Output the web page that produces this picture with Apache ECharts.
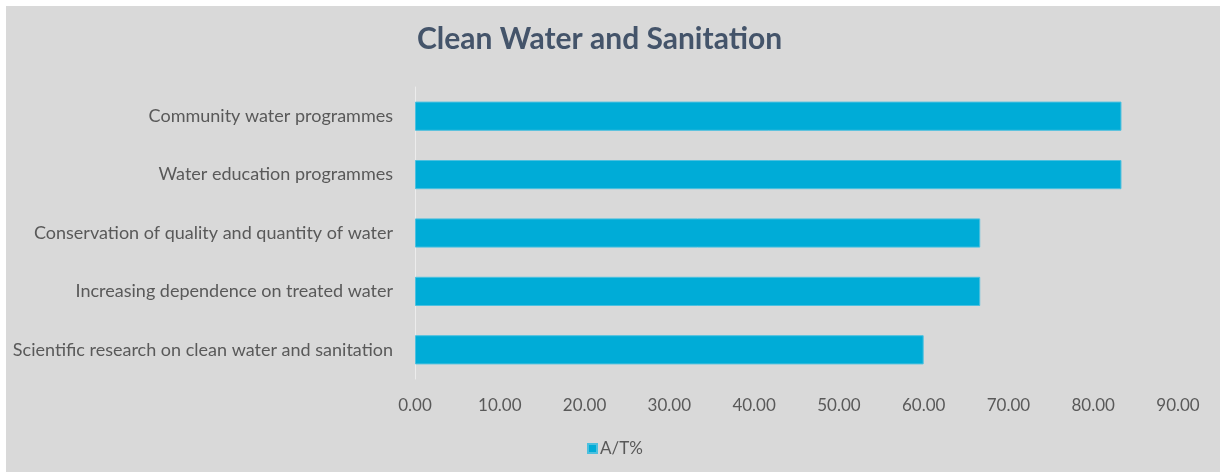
<!DOCTYPE html>
<html>
<head>
<meta charset="utf-8">
<script src="https://cdn.jsdelivr.net/npm/echarts@6/dist/echarts.min.js"></script>
<style>
  body { margin: 0; background: #fff; }
  #bg { position: absolute; left: 6px; top: 6px; width: 1214px; height: 466px; background: #d9d9d9; }
  #main { position: absolute; left: 0; top: 0; width: 1220px; height: 472px; }
</style>
</head>
<body>
<div id="bg"></div>
<div id="main"></div>
<script>
// categories, top to bottom as in the picture
const categories = [
  'Community water programmes',
  'Water education programmes',
  'Conservation of quality and quantity of water',
  'Increasing dependence on treated water',
  'Scientific research on clean water and sanitation'
];
const atValues = [83.33, 83.33, 66.67, 66.67, 60.00];
const seriesName = 'A/T%';
const xTicks = { min: 0, max: 90, interval: 10 };

const myChart = echarts.init(document.getElementById('main'));
myChart.setOption({
  backgroundColor: 'transparent',
  textStyle: { fontFamily: 'Lato' },
  title: {
    text: 'Clean Water and Sanitation',
    left: 412,
    top: 19,
    textStyle: { fontFamily: 'Lato', fontSize: 30, fontWeight: 'bold', color: '#44546a' }
  },
  legend: {
    data: [seriesName],
    left: 582,
    top: 435,
    icon: 'rect',
    itemWidth: 9,
    itemHeight: 9,
    itemGap: 4,
    textStyle: { fontSize: 17, color: '#595959', padding: [0, 0, 0, -2] }
  },
  grid: { left: 415, right: 42, top: 87, height: 292, containLabel: false },
  xAxis: {
    type: 'value',
    min: xTicks.min,
    max: xTicks.max,
    interval: xTicks.interval,
    splitLine: { show: false },
    axisLine: { show: false },
    axisTick: { show: false },
    axisLabel: {
      margin: 18,
      fontSize: 17,
      color: '#595959',
      formatter: v => v.toFixed(2)
    }
  },
  yAxis: {
    type: 'category',
    inverse: true,
    data: categories,
    axisLine: { show: true, lineStyle: { color: '#ececec', width: 1 } },
    axisTick: { show: false },
    axisLabel: { margin: 22, fontSize: 18, color: '#595959' }
  },
  series: [{
    name: seriesName,
    type: 'bar',
    data: atValues,
    barWidth: '50%',
    itemStyle: { color: '#00acd7', borderColor: '#4cc0df', borderWidth: 1 }
  }]
});
</script>
</body>
</html>
